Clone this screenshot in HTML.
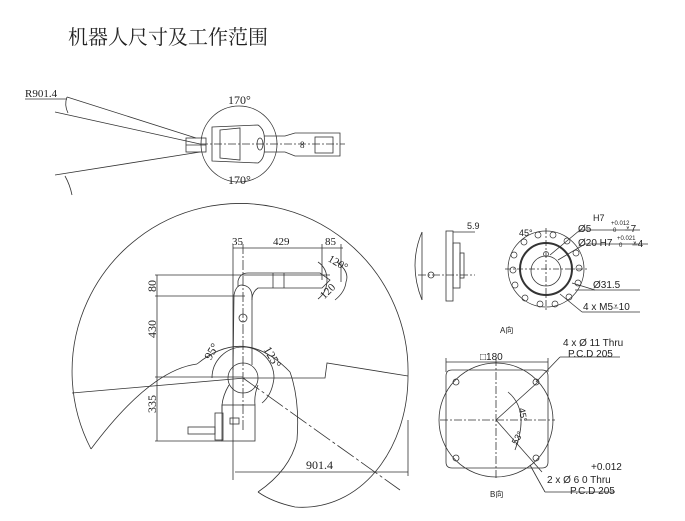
<!DOCTYPE html>
<html><head><meta charset="utf-8"><style>
body{margin:0;background:#fff;width:685px;height:521px;overflow:hidden}
svg{display:block}
text{font-family:"Liberation Serif","Noto Serif CJK SC",serif;fill:#222}
.s{font-family:"Liberation Sans","Noto Sans CJK SC",sans-serif}
</style></head><body>
<svg width="685" height="521" viewBox="0 0 685 521" fill="none" stroke="#333" stroke-width="0.8">
<text x="68" y="44" font-size="20" stroke="none" font-family="Noto Serif CJK SC, serif">机器人尺寸及工作范围</text>

<!-- Top view -->
<text x="25" y="97" font-size="11" stroke="none">R901.4</text>
<line x1="25" y1="99" x2="67" y2="99"/>
<line x1="67" y1="97" x2="196" y2="138"/>
<line x1="55" y1="112" x2="200" y2="144"/>
<line x1="55" y1="175" x2="200" y2="152"/>
<path d="M67 97 Q64 105 68 113"/>
<path d="M65 176 Q70 185 72 195"/>
<circle cx="239" cy="144" r="38"/>
<text x="228" y="104" font-size="12" stroke="none">170°</text>
<text x="228" y="184" font-size="12" stroke="none">170°</text>
<path d="M212 127 L258 125 Q266 130 264 144 Q266 158 258 163 L212 161 Z"/>
<path d="M220 130 L240 128 L240 160 L220 158 Z"/>
<rect x="186" y="138" width="20" height="14"/>
<line x1="186" y1="145" x2="206" y2="145"/>
<path d="M264 136 L285 136 L295 133 L340 133 L340 156 L295 156 L285 152 L264 152"/>
<ellipse cx="260" cy="144" rx="3" ry="6"/>
<rect x="315" y="137" width="18" height="16"/>
<line x1="200" y1="144" x2="345" y2="144" stroke-dasharray="8 2 2 2"/>
<text x="300" y="148" font-size="9" stroke="none">8</text>

<!-- Side view: workspace -->
<path d="M91 449 Q150 370 197 364"/>
<path d="M72 393 L245 378"/>
<path d="M91 449 A168 168 0 1 1 408 376"/>
<path d="M408 376 L327 363 L325 378 L243 378"/>
<path d="M408 376 C408 450 360 512 295 507 Q272 502 258 492"/>
<path d="M258 492 Q290 470 297 440 Q300 400 290 372"/>
<path d="M197 364 Q245 325 290 372"/>
<path d="M212 378 A31 31 0 0 1 274 378 Q272 395 262 403"/>
<line x1="243" y1="378" x2="400" y2="490" stroke-dasharray="20 3 3 3"/>
<text x="208" y="360" font-size="12" stroke="none" transform="rotate(-60 210 358)">95°</text>
<text x="264" y="352" font-size="12" stroke="none" transform="rotate(60 266 350)">125°</text>

<!-- Dimensions -->
<line x1="233" y1="248" x2="343" y2="248"/>
<line x1="233" y1="244" x2="233" y2="480"/>
<line x1="243" y1="244" x2="243" y2="430" stroke-dasharray="10 2 2 2"/>
<line x1="322" y1="244" x2="322" y2="280"/>
<line x1="341" y1="244" x2="341" y2="282"/>
<text x="232" y="245" font-size="11" stroke="none">35</text>
<text x="273" y="245" font-size="11" stroke="none">429</text>
<text x="325" y="245" font-size="11" stroke="none">85</text>
<line x1="157" y1="275" x2="157" y2="441"/>
<line x1="155" y1="275" x2="330" y2="275"/>
<line x1="155" y1="296" x2="245" y2="296"/>
<line x1="155" y1="377" x2="243" y2="377"/>
<line x1="155" y1="441" x2="222" y2="441"/>
<text x="158" y="294" font-size="12" stroke="none" transform="rotate(-90 156 294)">80</text>
<text x="162" y="344" font-size="12" stroke="none" transform="rotate(-90 156 344)">430</text>
<text x="162" y="419" font-size="12" stroke="none" transform="rotate(-90 156 419)">335</text>
<line x1="235" y1="472" x2="408" y2="472"/>
<line x1="408" y1="420" x2="408" y2="476"/>
<text x="306" y="469" font-size="12" stroke="none">901.4</text>

<!-- Robot arm -->
<path d="M238 287 L238 281 Q240 273 248 273 L320 273 L330 280 L322 288 L258 288 Q252 292 252 300"/>
<path d="M233 370 L234 295 Q236 285 242 285 Q251 286 252 295 L252 365"/>
<ellipse cx="243" cy="318" rx="4" ry="4"/>
<line x1="273" y1="273" x2="273" y2="288"/><line x1="284" y1="273" x2="284" y2="288"/>
<path d="M318 262 Q327 268 327 280 Q327 292 318 299"/>
<path d="M337 262 Q350 272 346 282 Q345 292 335 300"/>
<text x="328" y="262" font-size="11" stroke="none" transform="rotate(30 330 260)">120°</text>
<text x="322" y="298" font-size="11" stroke="none" transform="rotate(-45 325 296)">120</text>
<circle cx="243" cy="378" r="15"/>
<path d="M229 385 Q223 395 222 405 L222 412 M258 385 Q254 395 255 405"/>
<rect x="222" y="405" width="33" height="36"/>
<rect x="215" y="413" width="8" height="27"/>
<rect x="188" y="427" width="27" height="7"/>
<rect x="230" y="418" width="9" height="6"/>

<!-- Side view of flange -->
<path d="M422 232 Q408 265 422 300"/>
<line x1="422" y1="232" x2="422" y2="300"/>
<rect x="446" y="231" width="7" height="70"/>
<rect x="453" y="243" width="7" height="45"/>
<rect x="460" y="253" width="4" height="25"/>
<circle cx="431" cy="275" r="3"/>
<line x1="418" y1="275" x2="475" y2="275" stroke-dasharray="8 2 2 2"/>
<line x1="453" y1="232" x2="475" y2="232"/>
<text x="467" y="229" font-size="9" stroke="none" class="s">5.9</text>

<!-- A view flange -->
<circle cx="546" cy="269" r="38"/>
<circle cx="546" cy="269" r="26" stroke-width="2"/>
<circle cx="546" cy="271" r="15"/>
<g stroke-width="0.7">
<circle cx="514" cy="255" r="3"/><circle cx="513" cy="270" r="3"/><circle cx="515" cy="285" r="3"/>
<circle cx="525" cy="298" r="3"/><circle cx="540" cy="304" r="3"/><circle cx="555" cy="304" r="3"/>
<circle cx="569" cy="297" r="3"/><circle cx="578" cy="283" r="3"/><circle cx="579" cy="268" r="3"/>
<circle cx="576" cy="253" r="3"/><circle cx="567" cy="241" r="3"/><circle cx="553" cy="235" r="3"/>
<circle cx="538" cy="235" r="3"/><circle cx="524" cy="242" r="3"/>
<circle cx="546" cy="254" r="2.5"/>
</g>
<line x1="505" y1="269" x2="588" y2="269" stroke-dasharray="6 2 2 2"/>
<line x1="546" y1="228" x2="546" y2="310" stroke-dasharray="6 2 2 2"/>
<line x1="550" y1="255" x2="580" y2="230"/><line x1="580" y1="230" x2="640" y2="230"/>
<line x1="558" y1="260" x2="585" y2="244"/><line x1="585" y1="244" x2="648" y2="244"/>
<line x1="575" y1="290" x2="640" y2="290" />
<line x1="560" y1="294" x2="582" y2="312"/><line x1="582" y1="312" x2="640" y2="312"/>
<line x1="572" y1="283" x2="595" y2="290"/>
<g class="s" stroke="none" font-size="10">
<text x="593" y="221" font-size="9" class="s">H7</text>
<text x="578" y="232" class="s">Ø5</text><text x="611" y="225" font-size="6" class="s">+0.012</text><text x="613" y="232" font-size="6" class="s">0</text><text x="625" y="232" class="s">⩡7</text>
<text x="578" y="246" class="s">Ø20 H7</text><text x="617" y="240" font-size="6" class="s">+0.021</text><text x="619" y="247" font-size="6" class="s">0</text><text x="632" y="247" class="s">⩡4</text>
<text x="593" y="288" class="s">Ø31.5</text>
<text x="583" y="310" class="s">4 x M5⩡10</text>
<text x="519" y="236" font-size="9" class="s">45°</text>
<text x="500" y="333" font-size="8" class="s">A向</text>
</g>

<!-- B view -->
<path d="M452 370 L542 370 Q548 370 548 376 L548 462 Q548 468 542 468 L452 468 Q446 468 446 462 L446 376 Q446 370 452 370 Z"/>
<circle cx="496" cy="420" r="57"/>
<line x1="440" y1="420" x2="555" y2="420" stroke-dasharray="8 2 2 2"/>
<line x1="496" y1="358" x2="496" y2="480" stroke-dasharray="8 2 2 2"/>
<circle cx="456" cy="382" r="3"/><circle cx="536" cy="382" r="3"/><circle cx="456" cy="458" r="3"/><circle cx="536" cy="458" r="3"/>
<line x1="496" y1="420" x2="538" y2="382"/>
<line x1="496" y1="420" x2="542" y2="472"/>
<line x1="446" y1="362" x2="548" y2="362"/>
<line x1="446" y1="358" x2="446" y2="372"/><line x1="548" y1="358" x2="548" y2="372"/>
<line x1="536" y1="382" x2="560" y2="357"/><line x1="560" y1="357" x2="620" y2="357"/>
<line x1="530" y1="465" x2="545" y2="492"/><line x1="545" y1="492" x2="615" y2="492"/>
<path d="M508 392 Q530 410 515 450"/>
<g class="s" stroke="none" font-size="10">
<text x="480" y="360" class="s">□180</text>
<text x="563" y="346" class="s">4 x  Ø 11 Thru</text>
<text x="568" y="357" class="s">P.C.D 205</text>
<text x="591" y="470" class="s">+0.012</text>
<text x="547" y="483" class="s">2 x  Ø 6   0        Thru</text>
<text x="570" y="494" class="s">P.C.D 205</text>
<text x="520" y="413" font-size="9" class="s" transform="rotate(80 522 410)">45°</text>
<text x="513" y="445" font-size="9" class="s" transform="rotate(-60 515 442)">53°</text>
<text x="490" y="497" font-size="8" class="s">B向</text>
</g>
</svg>
</body></html>
